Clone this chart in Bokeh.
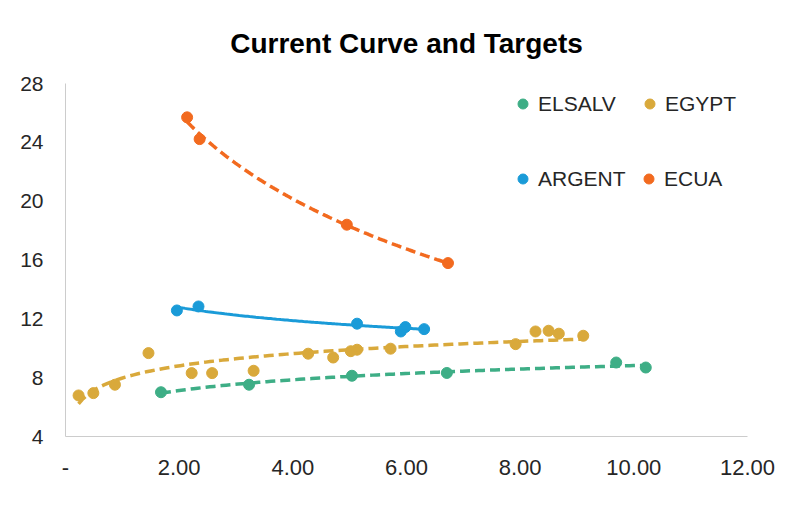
import numpy as np
from bokeh.plotting import figure
from bokeh.models import Range1d, FixedTicker, Legend, LegendItem
from bokeh.embed import file_html
from bokeh.resources import INLINE

# ---- data ----
elsalv_x = [1.68, 3.23, 5.04, 6.71, 9.69, 10.21]
elsalv_y = [7.01, 7.52, 8.13, 8.32, 9.03, 8.69]

egypt_x = [0.23, 0.49, 0.87, 1.46, 2.22, 2.58, 3.31, 4.27, 4.71, 5.02, 5.13, 5.72, 7.92, 8.27, 8.50, 8.68, 9.11]
egypt_y = [6.79, 6.95, 7.52, 9.67, 8.31, 8.31, 8.47, 9.63, 9.37, 9.80, 9.90, 9.97, 10.28, 11.14, 11.19, 10.99, 10.85]

argent_x = [1.96, 2.34, 5.13, 5.90, 5.98, 6.31]
argent_y = [12.57, 12.84, 11.67, 11.14, 11.44, 11.30]

ecua_x = [2.14, 2.36, 4.95, 6.73]
ecua_y = [25.70, 24.22, 18.40, 15.79]

x_ticks = [0, 2, 4, 6, 8, 10, 12]
x_tick_labels = ["-", "2.00", "4.00", "6.00", "8.00", "10.00", "12.00"]
y_ticks = [4, 8, 12, 16, 20, 24, 28]

GREEN = "#3EAE86"
GOLD = "#D9A93B"
BLUE = "#1A9BD8"
ORANGE = "#F26A1F"
FONT = "Liberation Sans"
TXT = "#262626"


def log_trend(x, y, n=120):
    x = np.asarray(x, float)
    y = np.asarray(y, float)
    b, a = np.polyfit(np.log(x), y, 1)
    xs = np.linspace(x.min(), x.max(), n)
    return xs, a + b * np.log(xs)


p = figure(width=784, height=490, output_backend="svg", toolbar_location=None,
           x_range=Range1d(0, 12), y_range=Range1d(4, 28),
           min_border_left=65, min_border_right=37, min_border_top=83, min_border_bottom=54)

p.title.text = "Current Curve and Targets"
p.title.align = "center"
p.title.vertical_align = "top"
p.title.text_font = FONT
p.title.text_font_size = "28px"
p.title.text_font_style = "bold"
p.title.text_color = "#000000"
p.title.standoff = 46

p.outline_line_color = None
p.grid.visible = False
p.background_fill_color = "white"
p.border_fill_color = "white"

for ax in (p.xaxis[0], p.yaxis[0]):
    ax.axis_line_color = "#CCCCCC"
    ax.axis_line_width = 1
    ax.major_tick_line_color = None
    ax.minor_tick_line_color = None
    ax.major_tick_out = 0
    ax.major_tick_in = 0
    ax.minor_tick_out = 0
    ax.major_label_text_font = FONT
    ax.major_label_text_color = TXT

p.xaxis[0].ticker = FixedTicker(ticks=x_ticks)
p.xaxis[0].major_label_overrides = {t: l for t, l in zip(x_ticks, x_tick_labels)}
p.xaxis[0].major_label_text_font_size = "22px"
p.xaxis[0].major_label_standoff = 23

p.yaxis[0].ticker = FixedTicker(ticks=y_ticks)
p.yaxis[0].major_label_text_font_size = "21px"
p.yaxis[0].major_label_standoff = 22

series = [
    ("ELSALV", elsalv_x, elsalv_y, GREEN, "10 5"),
    ("EGYPT", egypt_x, egypt_y, GOLD, "10 5"),
    ("ARGENT", argent_x, argent_y, BLUE, "solid"),
    ("ECUA", ecua_x, ecua_y, ORANGE, "10 5"),
]

renderers = {}
for name, xs, ys, col, dash in series:
    r = p.scatter(xs, ys, size=11, color=col, line_color=col)
    renderers[name] = r

for name, xs, ys, col, dash in series:
    tx, ty = log_trend(xs, ys)
    p.line(tx, ty, line_color=col, line_width=3.5 if dash != "solid" else 3,
           line_dash=dash, line_cap="round" if dash == "solid" else "butt")

legend_pos = {
    "ELSALV": (445, 320),
    "EGYPT": (572, 320),
    "ARGENT": (445, 245),
    "ECUA": (571, 245),
}
for name, loc in legend_pos.items():
    lg = Legend(items=[LegendItem(label=name, renderers=[renderers[name]])],
                location=loc, orientation="horizontal",
                padding=0, margin=0, spacing=0,
                glyph_width=25, glyph_height=25, label_standoff=3,
                label_text_font=FONT, label_text_font_size="21px",
                label_text_color=TXT,
                border_line_color=None, background_fill_alpha=0)
    p.add_layout(lg, "center")

open("out.html", "w").write(file_html(p, INLINE))
